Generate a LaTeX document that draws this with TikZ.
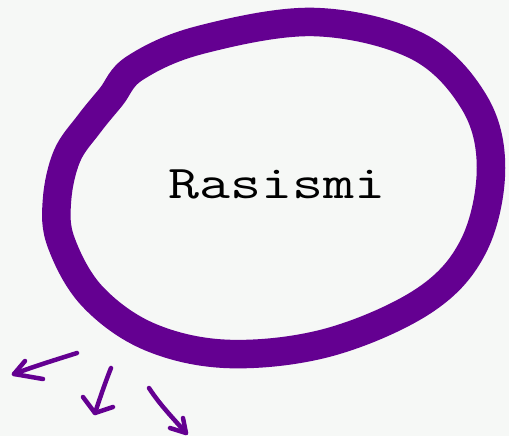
\documentclass[tikz,border=0pt]{standalone}
\definecolor{bgc}{HTML}{F6F8F6}
\definecolor{loopc}{HTML}{640091}
\tikzset{
  ring/.style={draw=loopc, line width=28.5pt, line cap=round, line join=round},
  sketcharrow/.style={draw=loopc, line width=4.5pt, line cap=round, line join=round},
  label/.style={font=\ttfamily\fontsize{47}{56}\selectfont, text=black, inner sep=0pt, xscale=1.28}
}
\begin{document}
\begin{tikzpicture}[x=1pt,y=-1pt]
\fill[bgc] (0,0) rectangle (509,436);
\useasboundingbox (0,0) rectangle (509,436);
% loop
\draw[ring] plot[smooth cycle, tension=0.6] coordinates {
  (135,68) (200,40) (314,22) (417,46) (474,102) (491,168)
  (474,245) (425,300) (330,342) (230,354) (150,337) (92,296) (61,242)
  (57,200) (67,156) (89,124) (111,97)};
% text
\node[label, anchor=base] (t) at (277,198) {Rasismi};
% arrows
\coordinate (a1s) at (77,353); \coordinate (a1t) at (14,374);
\coordinate (a1u) at (25,361); \coordinate (a1d) at (43,379);
\draw[sketcharrow] (a1s) .. controls (55,360) and (35,366) .. (a1t);
\draw[sketcharrow] (a1u) -- (a1t) -- (a1d);
\coordinate (a2s) at (111,368); \coordinate (a2t) at (95,413);
\coordinate (a2u) at (83,397); \coordinate (a2d) at (113,407);
\draw[sketcharrow] (a2s) .. controls (105,383) and (100,398) .. (a2t);
\draw[sketcharrow] (a2u) -- (a2t) -- (a2d);
\coordinate (a3s) at (149,388); \coordinate (a3t) at (186,433);
\coordinate (a3u) at (170,428); \coordinate (a3d) at (183,418);
\draw[sketcharrow] (a3s) .. controls (160,405) and (173,418) .. (a3t);
\draw[sketcharrow] (a3u) -- (a3t) -- (a3d);
\end{tikzpicture}
\end{document}
